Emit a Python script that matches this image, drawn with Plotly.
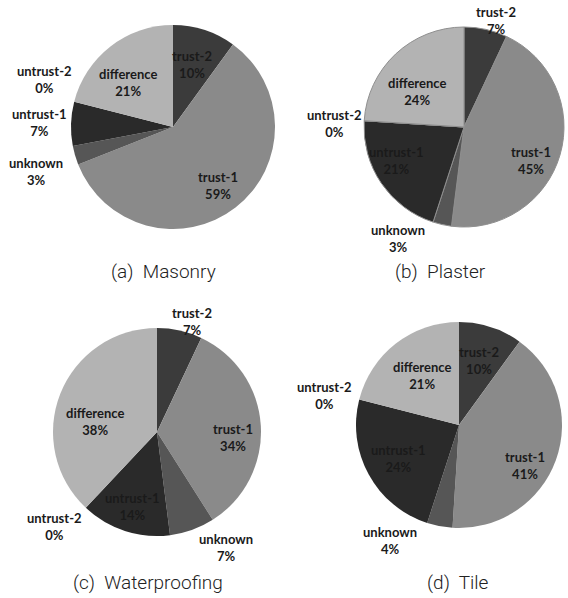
import math
import plotly.graph_objects as go

W, H = 568, 598

labels = ["trust-2", "trust-1", "unknown", "untrust-1", "untrust-2", "difference"]
masonry = [10, 59, 3, 7, 0, 21]
plaster = [7, 45, 3, 21, 0, 24]
waterproofing = [7, 34, 7, 14, 0, 38]
tile = [10, 41, 4, 24, 0, 21]
captions = ["(a)  Masonry", "(b)  Plaster", "(c)  Waterproofing", "(d)  Tile"]

colors = ["#3b3b3b", "#8a8a8a", "#565656", "#2a2a2a", "#1e1e1e", "#b3b3b3"]

# layout (pixel centre, radius) per pie - style/position only
pies = [
    dict(values=masonry, cx=173, cy=127, r=102,
         lr=[0.64, 0.72, 1.41, 1.31, 1.34, 0.62], ls=[-1, 0, -2, 0, 6, -7],
         cap=(163, 271), line=0),
    dict(values=plaster, cx=464, cy=127, r=100,
         lr=[1.11, 0.75, 1.30, 0.75, 1.30, 0.59], ls=[4, 10, 18, 8, -2, -10],
         cap=(440, 271), line=1),
    dict(values=waterproofing, cx=157, cy=432, r=104,
         lr=[1.11, 0.73, 1.29, 0.75, 1.34, 0.60], ls=[5, 8, -11, 0, 4, -12],
         cap=(148, 582), line=0),
    dict(values=tile, cx=459, cy=425, r=103,
         lr=[0.65, 0.75, 1.30, 0.67, 1.34, 0.60], ls=[-1, 12, 20, 0, -2, 1],
         cap=(458, 582), line=0),
]

fig = go.Figure()
annotations = []
for k, p in enumerate(pies):
    cx, cy, r = p["cx"], p["cy"], p["r"]
    fig.add_trace(go.Pie(
        labels=labels, values=p["values"], sort=False, direction="clockwise",
        rotation=0, textinfo="none", hoverinfo="label+percent",
        marker=dict(colors=colors,
                    line=dict(color="#8f8f8f", width=p["line"])),
        domain=dict(x=[(cx - r) / W, (cx + r) / W],
                    y=[1 - (cy + r) / H, 1 - (cy - r) / H]),
        showlegend=False,
    ))
    total = sum(p["values"])
    cum = 0
    for i, (lab, v) in enumerate(zip(labels, p["values"])):
        mid = (cum + v / 2) / total * 360 + p["ls"][i]
        cum += v
        rr = p["lr"][i] * r
        px = cx + rr * math.sin(math.radians(mid))
        py = cy - rr * math.cos(math.radians(mid))
        annotations.append(dict(
            x=px / W, y=1 - py / H, xref="paper", yref="paper",
            text=f"{lab}<br>{round(v / total * 100)}%", showarrow=False,
            xanchor="center", yanchor="middle", align="center",
            font=dict(family="Lato", size=13, color="#1a1a1a", weight="bold"),
        ))
    annotations.append(dict(
        x=p["cap"][0] / W, y=1 - p["cap"][1] / H, xref="paper", yref="paper",
        text=captions[k], showarrow=False,
        xanchor="center", yanchor="middle",
        font=dict(family="Roboto", size=19, color="#222222", weight=300),
    ))

fig.update_layout(
    width=W, height=H, margin=dict(l=0, r=0, t=0, b=0),
    paper_bgcolor="white", plot_bgcolor="white",
    annotations=annotations,
)
fig.write_html("out.html")
